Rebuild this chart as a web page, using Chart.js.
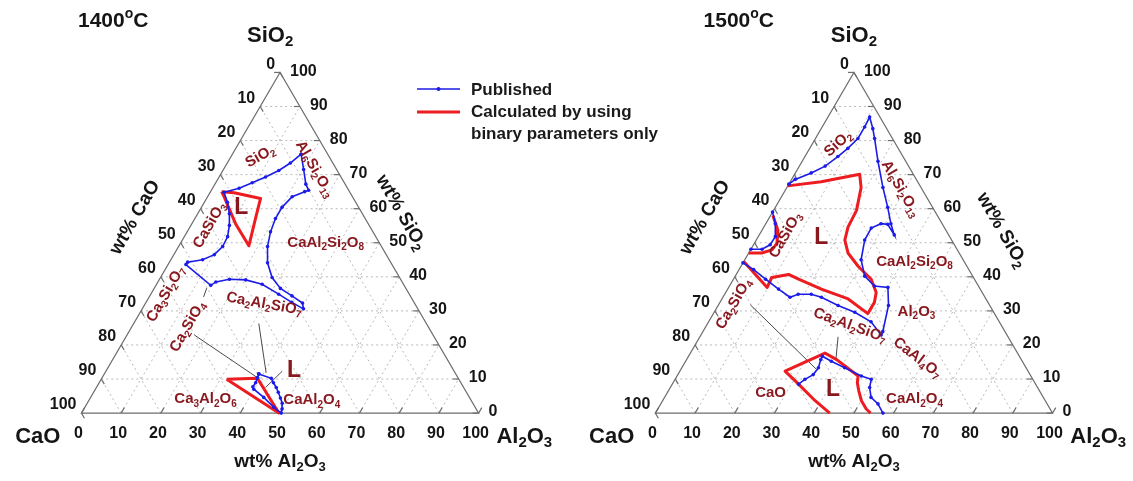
<!DOCTYPE html>
<html><head><meta charset="utf-8">
<script src="https://cdn.jsdelivr.net/npm/chart.js@4.4.0/dist/chart.umd.min.js"></script>
<style>html,body{margin:0;padding:0;background:#fff}#wrap{position:relative;width:1133px;height:481px}</style>
</head><body><div id="wrap"><canvas id="c"></canvas></div>
<script>
// ---- axis ticks (wt%) ----
const tickValues = [0,10,20,30,40,50,60,70,80,90,100];
const gridValues = [10,20,30,40,50,60,70,80,90];

// ---- data: [wt% Al2O3, wt% SiO2] ----
// 1400 °C
const pub1400Silicate = [[17.3,76.0],[20.2,71.5],[22.9,67.2],[24.5,65.4],[23.7,65.0],[21.3,63.5],[20.3,60.4],[20.3,57.1],[21.0,53.2],[22.4,48.9],[24.8,44.1],[28.1,39.8],[31.8,36.6],[35.8,34.4],[39.5,32.3],[40.6,30.6],[36.7,32.5],[32.2,34.9],[26.6,37.8],[21.8,39.1],[17.6,39.3],[14.6,38.5],[13.8,37.5],[4.5,43.6],[4.6,44.3],[8.0,45.0],[10.2,46.5],[11.1,48.9],[10.9,51.8],[9.7,55.1],[8.0,58.5],[5.8,61.9],[3.5,64.8],[6.7,66.0],[9.2,67.6],[11.7,69.3],[14.1,71.2],[15.9,73.4]];
const calc1400Silicate = [[2.8,65.0],[6.1,64.7],[13.6,63.0],[15.0,58.0],[17.6,49.1],[11.0,55.6],[3.9,63.8]];
const pub1400Aluminate = [[38.9,11.5],[42.7,10.2],[43.9,8.9],[45.3,7.5],[46.5,6.1],[47.9,4.4],[49.1,2.9],[49.9,1.2],[50.3,0],[47.6,1.7],[43.6,4.6],[39.9,7.0],[39.3,7.7],[39.4,8.9],[39.1,10.4]];
const calc1400Aluminate = [[31.6,9.9],[39.2,10.2],[49.7,0]];
// 1500 °C
const pub1500Silicate = [[0,67.2],[0.9,68.6],[4.0,70.5],[6.5,72.5],[8.3,75.3],[9.6,77.7],[10.7,80.6],[10.7,84.0],[10.5,86.9],[13.0,83.5],[14.9,80.6],[19.1,73.9],[24.2,66.2],[28.3,60.4],[31.5,55.6],[34.0,52.3],[30.8,55.4],[29.0,55.6],[27.2,54.3],[27.3,50.8],[29.3,45.0],[32.6,40.2],[36.5,37.3],[40.1,36.9],[42.9,31.6],[45.3,23.9],[45.4,22.9],[40.9,26.8],[35.4,29.6],[30.2,31.6],[24.8,34.0],[21.8,34.9],[18.5,34.9],[16.9,34.0],[12.8,36.4],[8.1,39.3],[3.7,42.1],[0,44.1]];
const calc1500Silicate = [[0,66.7],[7.8,67.9],[16.4,70.1],[18.7,66.2],[20.9,59.5],[21.2,54.6],[22.3,50.8],[25.0,47.0],[29.5,43.1],[34.7,39.3],[37.9,35.4],[38.9,32.5],[38.9,29.2],[31.8,33.5],[23.6,36.4],[16.4,39.3],[13.2,40.7],[9.4,39.8],[9.7,36.9],[0,44.5]];
const pub1500Wollastonite = [[0,59.0],[2.4,55.6],[4.3,51.8],[4.2,49.4],[2.8,48.1],[0,48.1]];
const calc1500Wollastonite = [[0.6,58.0],[4.0,53.7],[5.7,49.9],[5.4,47.9],[3.3,47.0],[0,47.0]];
const pub1500Aluminate = [[31.8,8.5],[32.7,9.9],[34.1,11.3],[34.4,13.3],[33.8,15.7],[33.7,16.7],[36.7,15.2],[41.0,13.3],[46.4,10.9],[49.4,9.9],[50.2,7.5],[52.0,4.6],[54.7,2.7],[57.3,0]];
const calc1500Aluminate = [[43.9,0],[38.3,3.7],[31.8,8.5],[26.5,12.3],[33.9,17.6],[37.8,15.7],[45.6,10.9],[46.4,8.9],[47.9,6.6],[50.0,3.7],[52.5,1.2],[54.2,0]];
// leader lines
const leaders1400 = [[[17.0,22.9],[39.1,10.4]],[[31.5,26.3],[40.6,11.8]],[[44.4,12.3],[42.6,7.5]],[[13.7,34.1],[13.2,36.7]]];
const leaders1500 = [[[8.0,31.8],[34.2,12.8]],[[34.8,22.4],[37.6,15.7]]];

// ---- layout ----
const SQ = Math.sqrt(3)/2;
const OFFSETS = [0, 144.5];
const BLUE = 'rgb(28,28,232)', RED = 'rgb(236,28,32)', MAROON = 'rgb(136,24,30)';
const FONT = '"Liberation Sans", Arial, sans-serif';

function toPts(arr, off, closed){
  const src = closed ? arr.concat([arr[0]]) : arr;
  return src.map(p => ({x: off + p[0] + p[1]/2, y: p[1]*SQ}));
}
function pubDS(arr, off, closed){
  return {data: toPts(arr, off, closed), showLine:true, borderColor:BLUE, backgroundColor:BLUE, borderWidth:1.6, pointRadius:1.8, pointBorderWidth:0, tension:0, order:0};
}
function calcDS(arr, off, closed){
  return {data: toPts(arr, off, closed), showLine:true, borderColor:RED, backgroundColor:RED, borderWidth:3, pointRadius:0, tension:0, order:1, borderJoinStyle:'round'};
}
function leadDS(seg, off){
  return {data: toPts(seg, off, false), showLine:true, borderColor:'#4a4a4a', borderWidth:1, pointRadius:0, order:2};
}
const datasets = [
  pubDS(pub1400Silicate, OFFSETS[0], true), pubDS(pub1400Aluminate, OFFSETS[0], true),
  calcDS(calc1400Silicate, OFFSETS[0], true), calcDS(calc1400Aluminate, OFFSETS[0], true),
  pubDS(pub1500Silicate, OFFSETS[1], false), pubDS(pub1500Wollastonite, OFFSETS[1], false), pubDS(pub1500Aluminate, OFFSETS[1], false),
  calcDS(calc1500Silicate, OFFSETS[1], false), calcDS(calc1500Wollastonite, OFFSETS[1], false), calcDS(calc1500Aluminate, OFFSETS[1], false)
];
leaders1400.forEach(s => datasets.push(leadDS(s, OFFSETS[0])));
leaders1500.forEach(s => datasets.push(leadDS(s, OFFSETS[1])));

// ---- label definitions (positions in triangle-local plot units) ----
const phaseLabels = [
  [ {t:'SiO_2',x:45,y:65.25,r:-30},{t:'Al_6Si_2O_13',x:58.75,y:62,r:60},{t:'CaAl_2Si_2O_8',x:61.5,y:43.25,r:0},
    {t:'CaSiO_3',x:32.25,y:47.75,r:-60},{t:'Ca_3Si_2O_7',x:21.25,y:30.25,r:-60},{t:'Ca_2SiO_4',x:26.75,y:22,r:-60},
    {t:'Ca_2Al_2SiO_7',x:46,y:27.75,r:10},{t:'Ca_3Al_2O_6',x:31.25,y:3.5,r:0},{t:'CaAl_2O_4',x:58,y:3.25,r:0},
    {t:'L',x:40.25,y:52.25,r:0,big:true},{t:'L',x:53.5,y:10.75,r:0,big:true} ],
  [ {t:'SiO_2',x:46,y:68.5,r:-42},{t:'Al_6Si_2O_13',x:61.75,y:57,r:60},{t:'CaSiO_3',x:32.75,y:45.25,r:-60},
    {t:'CaAl_2Si_2O_8',x:65.25,y:38.5,r:0},{t:'Al_2O_3',x:65.75,y:25.75,r:0},{t:'CaAl_4O_7',x:66,y:14,r:38},
    {t:'CaAl_2O_4',x:65.25,y:3.5,r:0},{t:'Ca_2Al_2SiO_7',x:49,y:22.25,r:20},{t:'Ca_2SiO_4',x:19.75,y:27.75,r:-60},
    {t:'CaO',x:29,y:5.25,r:0},{t:'L',x:41.75,y:44.5,r:0,big:true},{t:'L',x:44.75,y:6,r:0,big:true} ]
];
const axisTexts = [
  [ {t:'1400^oC',x:8,y:99.5,s:21,r:0},{t:'SiO_2',x:47.5,y:96,s:22,r:0},{t:'wt% CaO',x:13.5,y:49.75,s:19,r:-60},
    {t:'wt% SiO_2',x:80.5,y:51,s:19,r:60},{t:'CaO',x:-11,y:-6,s:22,r:0},{t:'Al_2O_3',x:111.5,y:-6,s:22,r:0},{t:'wt% Al_2O_3',x:50,y:-12.25,s:19,r:0} ],
  [ {t:'1500^oC',x:21,y:99.5,s:21,r:0},{t:'SiO_2',x:50,y:96,s:22,r:0},{t:'wt% CaO',x:12.5,y:49.75,s:19,r:-60},
    {t:'wt% SiO_2',x:87.25,y:46.5,s:19,r:60},{t:'CaO',x:-11,y:-6,s:22,r:0},{t:'Al_2O_3',x:111.5,y:-6,s:22,r:0},{t:'wt% Al_2O_3',x:50,y:-12.25,s:19,r:0} ]
];

function fontStr(size, bold){ return (bold?'bold ':'') + size + 'px ' + FONT; }
function parseRich(t){
  const segs=[]; let i=0, buf='';
  while(i<t.length){
    const ch=t[i];
    if(ch==='_'||ch==='^'){
      if(buf){segs.push({s:buf,k:0});buf='';}
      i++; let r='';
      if(ch==='_'){ while(i<t.length && /[0-9]/.test(t[i])){r+=t[i];i++;} }
      else { r=t[i]; i++; }
      segs.push({s:r,k:ch==='_'?1:2});
    } else { buf+=ch; i++; }
  }
  if(buf) segs.push({s:buf,k:0});
  return segs;
}
function drawRich(ctx, t, x, y, size, o){
  o=o||{};
  const segs=parseRich(t), bold=o.bold!==false, small=Math.round(size*0.66);
  let w=0;
  for(const s of segs){ ctx.font=fontStr(s.k?small:size,bold); s.w=ctx.measureText(s.s).width; w+=s.w; }
  ctx.save(); ctx.translate(x,y); if(o.rot) ctx.rotate(o.rot*Math.PI/180);
  ctx.fillStyle=o.color||'#151515'; ctx.textBaseline='middle'; ctx.textAlign='left';
  let cx = o.align==='left'?0:(o.align==='right'?-w:-w/2);
  for(const s of segs){
    ctx.font=fontStr(s.k?small:size,bold);
    const dy = s.k===1 ? size*0.3 : (s.k===2 ? -size*0.38 : 0);
    ctx.fillText(s.s, cx, dy); cx+=s.w;
  }
  ctx.restore();
}

const ternPlugin = {
  id:'tern',
  beforeDatasetsDraw(chart){
    const ctx=chart.ctx, xs=chart.scales.x, ys=chart.scales.y;
    const P=(off,a,s)=>[xs.getPixelForValue(off+a+s/2), ys.getPixelForValue(s*SQ)];
    const seg=(p,q)=>{ctx.beginPath();ctx.moveTo(p[0],p[1]);ctx.lineTo(q[0],q[1]);ctx.stroke();};
    ctx.save();
    for(const off of OFFSETS){
      ctx.strokeStyle='#b9b9b9'; ctx.lineWidth=1; ctx.setLineDash([2,3]);
      for(const k of gridValues){
        seg(P(off,0,k),P(off,100-k,k));
        seg(P(off,k,0),P(off,k,100-k));
        seg(P(off,100-k,0),P(off,0,100-k));
      }
      ctx.setLineDash([]);
      ctx.strokeStyle='#6e6e6e'; ctx.lineWidth=1.2;
      const A=P(off,0,0), B=P(off,100,0), C=P(off,0,100);
      ctx.beginPath(); ctx.moveTo(A[0],A[1]); ctx.lineTo(B[0],B[1]); ctx.lineTo(C[0],C[1]); ctx.closePath(); ctx.stroke();
      for(const k of tickValues){
        seg(P(off,k,0),P(off,k,1.6));
        seg(P(off,100-k,k),P(off,100-k-1.5,k));
        seg(P(off,0,100-k),P(off,1.5,100-k-1.5));
      }
    }
    ctx.restore();
  },
  afterDatasetsDraw(chart){
    const ctx=chart.ctx, xs=chart.scales.x, ys=chart.scales.y;
    const P=(off,a,s)=>[xs.getPixelForValue(off+a+s/2), ys.getPixelForValue(s*SQ)];
    const L=(off,lx,ly)=>[xs.getPixelForValue(off+lx), ys.getPixelForValue(ly)];
    OFFSETS.forEach((off,i)=>{
      for(const k of tickValues){
        let p=P(off,k,0); drawRich(ctx,String(k),p[0]-3,p[1]+21,16);
        p=P(off,0,100-k); drawRich(ctx,String(k),p[0]-5,p[1]-8,16,{align:'right'});
        p=P(off,100-k,k); drawRich(ctx,String(k),p[0]+10,p[1]-1,16,{align:'left'});
      }
      for(const a of axisTexts[i]){ const p=L(off,a.x,a.y); drawRich(ctx,a.t,p[0],p[1],a.s,{rot:a.r}); }
      for(const l of phaseLabels[i]){ const p=L(off,l.x,l.y); drawRich(ctx,l.t,p[0],p[1],l.big?23:15,{rot:l.r,color:MAROON}); }
    });
    // legend
    ctx.save();
    ctx.strokeStyle=BLUE; ctx.lineWidth=1.6; ctx.beginPath(); ctx.moveTo(417,89); ctx.lineTo(460,89); ctx.stroke();
    ctx.fillStyle=BLUE; ctx.beginPath(); ctx.arc(438.5,89,2,0,Math.PI*2); ctx.fill();
    ctx.strokeStyle=RED; ctx.lineWidth=3; ctx.beginPath(); ctx.moveTo(417,112); ctx.lineTo(460,112); ctx.stroke();
    ctx.restore();
    drawRich(ctx,'Published',471,90,17,{align:'left',color:'#1a1a1a'});
    drawRich(ctx,'Calculated by using',471,112,17,{align:'left',color:'#1a1a1a'});
    drawRich(ctx,'binary parameters only',471,134,17,{align:'left',color:'#1a1a1a'});
  }
};

new Chart(document.getElementById('c'), {
  type:'scatter',
  data:{datasets},
  options:{
    responsive:true, maintainAspectRatio:false, animation:false, devicePixelRatio:1,
    layout:{padding:0},
    plugins:{legend:{display:false}, tooltip:{enabled:false}},
    scales:{
      x:{type:'linear', min:-19.5, max:263.75, display:false},
      y:{type:'linear', min:-16.25, max:104, display:false}
    }
  },
  plugins:[ternPlugin]
});
</script></body></html>
